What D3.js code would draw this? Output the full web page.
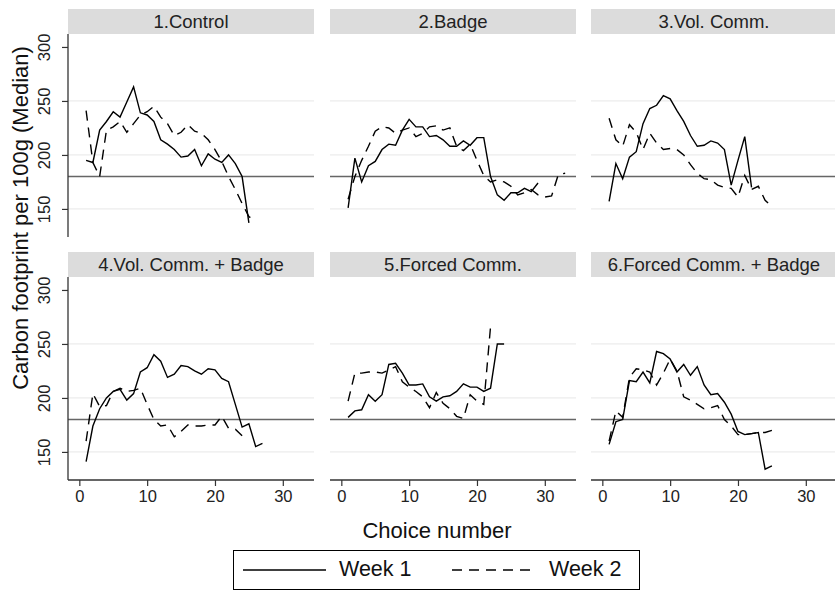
<!DOCTYPE html>
<html>
<head>
<meta charset="utf-8">
<script src="https://cdn.jsdelivr.net/npm/d3@7"></script>
<style>
  body { margin: 0; background: #fff; }
  svg { font-family: "Liberation Sans", Arial, sans-serif; }
</style>
</head>
<body>
<div id="chart"></div>
<script>
// panel titles
var titles = ["1.Control", "2.Badge", "3.Vol. Comm.", "4.Vol. Comm. + Badge", "5.Forced Comm.", "6.Forced Comm. + Badge"];

// median carbon footprint by choice number (index 0 = choice 1)
var w1Control = [195, 193, 223, 231, 240, 235, 249, 263, 239, 237, 231, 214, 210, 205, 198, 199, 205, 190, 201, 196, 193, 200, 192, 180, 137];
var w2Control = [241, 193, 180, 223, 226, 231, 221, 229, 237, 240, 245, 235, 229, 218, 221, 228, 222, 220, 214, 205, 194, 180, 168, 155, 143, 138];

var w1Badge = [151, 197, 175, 190, 194, 205, 210, 209, 223, 233, 226, 226, 217, 218, 214, 208, 208, 213, 209, 216, 216, 180, 163, 158, 165, 165, 169, 166, 174];
var w2Badge = [159, 180, 195, 208, 222, 226, 225, 220, 223, 225, 217, 220, 226, 227, 223, 225, 208, 204, 210, 195, 181, 175, 177, 175, 171, 163, 165, 168, 163, 161, 162, 182, 183];

var w1Vol = [157, 192, 178, 198, 203, 229, 243, 246, 255, 252, 241, 231, 218, 208, 209, 213, 211, 205, 172, 195, 217, 170];
var w2Vol = [234, 214, 208, 228, 221, 205, 220, 211, 205, 206, 205, 200, 191, 183, 178, 177, 172, 170, 169, 161, 181, 168, 171, 158, 152];

var w1VolB = [141, 174, 190, 200, 206, 208, 198, 204, 224, 228, 240, 234, 219, 222, 230, 229, 225, 222, 227, 226, 218, 215, 194, 173, 176, 155, 158];
var w2VolB = [160, 204, 192, 193, 206, 209, 206, 207, 209, 194, 180, 174, 175, 164, 169, 175, 174, 174, 175, 175, 183, 172, 171, 165];

var w1Forced = [182, 188, 189, 203, 197, 203, 231, 232, 223, 212, 212, 213, 201, 197, 201, 202, 206, 213, 210, 210, 206, 209, 250, 250];
var w2Forced = [197, 223, 223, 224, 224, 223, 226, 229, 215, 210, 206, 201, 191, 205, 195, 190, 183, 181, 203, 197, 194, 266];

var w1ForcedB = [157, 178, 180, 216, 215, 224, 214, 243, 241, 236, 224, 231, 221, 229, 212, 203, 204, 196, 185, 169, 166, 167, 168, 134, 137];
var w2ForcedB = [160, 188, 182, 219, 227, 226, 224, 212, 223, 236, 225, 201, 198, 194, 190, 191, 193, 180, 174, 166, 166, 167, 168, 168, 170];

var week1 = [w1Control, w1Badge, w1Vol, w1VolB, w1Forced, w1ForcedB];
var week2 = [w2Control, w2Badge, w2Vol, w2VolB, w2Forced, w2ForcedB];

var xTicks = [0, 10, 20, 30];
var yTicks = [150, 200, 250, 300];
var gridVals = [150, 200, 250];
var refValue = 180;
var legendLabels = ["Week 1", "Week 2"];

var W = 835, H = 590;
var panelW = 246, plotH = 203, stripH = 25;
var colX = [68, 330, 591];
var rowY = [9, 252];   // top of strip
var dash = "10,7";
var fam = "Liberation Sans, Arial, sans-serif";

var svg = d3.select("#chart").append("svg")
    .attr("width", W).attr("height", H);

var x = d3.scaleLinear().domain([-1.67, 34.6]).range([0, panelW]);
var y = d3.scaleLinear().domain([124, 312]).range([plotH, 0]);

var line = d3.line()
    .x(function(d, i) { return x(i + 1); })
    .y(function(d) { return y(d); });

titles.forEach(function(t, k) {
    var col = k % 3, row = Math.floor(k / 3);
    var g = svg.append("g")
        .attr("transform", "translate(" + colX[col] + "," + (rowY[row] + stripH) + ")");

    // strip
    svg.append("rect")
        .attr("x", colX[col]).attr("y", rowY[row])
        .attr("width", panelW).attr("height", stripH)
        .attr("fill", "#dcdcdc");
    svg.append("text")
        .attr("x", colX[col] + panelW / 2).attr("y", rowY[row] + 18.5)
        .attr("text-anchor", "middle")
        .attr("font-size", 18.5).attr("fill", "#222")
        .text(t);

    // grid
    g.selectAll(".grid").data(gridVals).enter().append("line")
        .attr("x1", 0).attr("x2", panelW)
        .attr("y1", function(d) { return y(d); })
        .attr("y2", function(d) { return y(d); })
        .attr("stroke", "#ececec").attr("stroke-width", 1.2);

    // reference line
    g.append("line")
        .attr("x1", 0).attr("x2", panelW)
        .attr("y1", y(refValue)).attr("y2", y(refValue))
        .attr("stroke", "#666").attr("stroke-width", 1.4);

    g.append("path").datum(week1[k])
        .attr("d", line)
        .attr("fill", "none").attr("stroke", "#000").attr("stroke-width", 1.4);
    g.append("path").datum(week2[k])
        .attr("d", line)
        .attr("fill", "none").attr("stroke", "#000").attr("stroke-width", 1.4)
        .attr("stroke-dasharray", dash);

    if (col === 0) {
        var ya = g.append("g")
            .call(d3.axisLeft(y).tickValues(yTicks).tickSize(6).tickPadding(4));
        ya.select(".domain").attr("stroke", "#333").attr("stroke-width", 1.3)
            .attr("d", "M0,0V" + plotH);
        ya.selectAll(".tick line").attr("stroke", "#333").attr("stroke-width", 1.2);
        ya.selectAll(".tick text")
            .attr("font-size", 16.5).attr("fill", "#222")
            .attr("font-family", fam)
            .attr("transform", "rotate(-90)")
            .attr("x", 0).attr("y", -18)
            .attr("dy", "0")
            .attr("text-anchor", "middle");
    }
    if (row === 1) {
        var xa = g.append("g")
            .attr("transform", "translate(0," + plotH + ")")
            .call(d3.axisBottom(x).tickValues(xTicks).tickSize(6).tickPadding(4));
        xa.select(".domain").attr("stroke", "#333").attr("stroke-width", 1.3)
            .attr("d", "M0,0H" + panelW);
        xa.selectAll(".tick line").attr("stroke", "#333").attr("stroke-width", 1.2);
        xa.selectAll(".tick text")
            .attr("font-size", 16.5).attr("fill", "#222")
            .attr("font-family", fam);
    }
});

// axis titles
svg.append("text")
    .attr("x", 437).attr("y", 538)
    .attr("text-anchor", "middle").attr("font-size", 22).attr("fill", "#111")
    .text("Choice number");
svg.append("text")
    .attr("transform", "translate(28,218) rotate(-90)")
    .attr("text-anchor", "middle").attr("font-size", 22).attr("fill", "#111")
    .text("Carbon footprint per 100g (Median)");

// legend
var lg = svg.append("g");
lg.append("rect")
    .attr("x", 233.5).attr("y", 550.5).attr("width", 406).attr("height", 39)
    .attr("fill", "#fff").attr("stroke", "#000").attr("stroke-width", 1);
[[243, 326, 339, null], [452, 535, 549, dash]].forEach(function(e, i) {
    lg.append("line")
        .attr("x1", e[0]).attr("x2", e[1]).attr("y1", 570).attr("y2", 570)
        .attr("stroke", "#000").attr("stroke-width", 1.4)
        .attr("stroke-dasharray", e[3]);
    lg.append("text")
        .attr("x", e[2]).attr("y", 576)
        .attr("font-size", 21.5).attr("fill", "#111")
        .text(legendLabels[i]);
});
</script>
</body>
</html>
